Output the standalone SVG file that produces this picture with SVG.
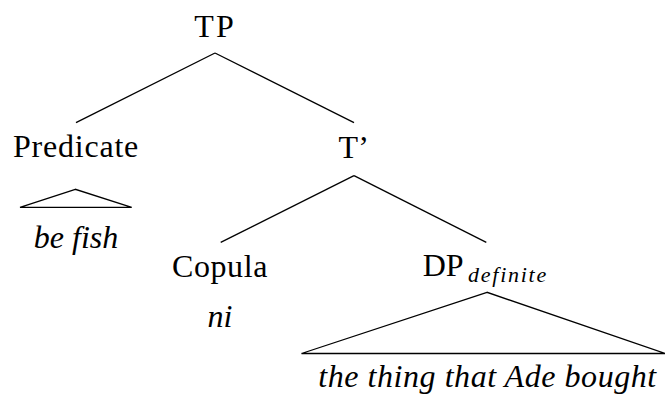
<svg xmlns="http://www.w3.org/2000/svg" width="665" height="401" viewBox="0 0 665 401">
<style>
text{font-family:'Liberation Serif','Times New Roman',serif;font-size:32px;fill:#000}
.it{font-style:italic}
.sub{font-style:italic;font-size:22px;letter-spacing:1.75px}
.edge{stroke:#000;stroke-width:1.3;fill:none}
</style>
<rect width="665" height="401" fill="#fff"/>
<g id="connectors">
<line class="edge" x1="215" y1="53" x2="76" y2="122.7"/>
<line class="edge" x1="215" y1="53" x2="354" y2="122.7"/>
<line class="edge" x1="354" y1="175.7" x2="220.7" y2="242.3"/>
<line class="edge" x1="354" y1="175.7" x2="486.3" y2="242.3"/>
</g>
<g id="TP"><text x="215" y="36.5" text-anchor="middle" letter-spacing="2">TP</text></g>
<g id="Predicate"><text x="76" y="157.3" text-anchor="middle" letter-spacing="0.8">Predicate</text></g>
<g id="be-fish">
<polygon class="edge" points="75.3,189.3 20,207.3 131.7,207.3"/>
<text class="it" x="76" y="248.3" text-anchor="middle">be fish</text>
</g>
<g id="Tbar"><text x="353.7" y="158" text-anchor="middle">T&#8217;</text></g>
<g id="Copula"><text x="220" y="277.3" text-anchor="middle" letter-spacing="0.6">Copula</text></g>
<g id="ni"><text class="it" x="220" y="326.7" text-anchor="middle">ni</text></g>
<g id="DP">
<text x="422.7" y="276.3">DP</text>
<text class="sub" x="468" y="281.7">definite</text>
</g>
<g id="the-thing">
<polygon class="edge" points="487,292.3 301.5,353.5 665,353.5"/>
<text class="it" x="487.5" y="386.7" text-anchor="middle" letter-spacing="0.55">the thing that Ade bought</text>
</g>
</svg>
